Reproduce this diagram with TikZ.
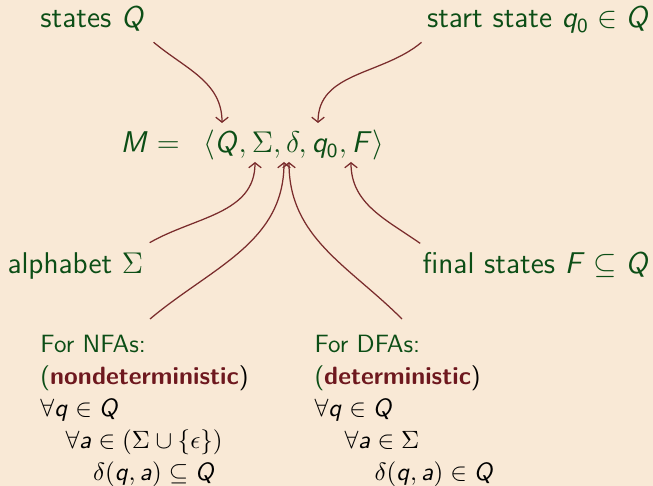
\documentclass[tikz,border=0pt]{standalone}
\usepackage{amsmath}
\usepackage{tikz}
\usetikzlibrary{arrows.meta}

\renewcommand{\familydefault}{\sfdefault}
% sans italic letters and sans digits in math, serif greek
\DeclareSymbolFont{sfitletters}{OT1}{cmss}{m}{sl}
\DeclareSymbolFont{sfdigits}{OT1}{cmss}{m}{n}
\newcount\lettercode
\lettercode=65
\loop
  \mathcode\lettercode=\numexpr "7000+\symsfitletters*"100+\lettercode\relax
  \advance\lettercode by 1
\ifnum\lettercode<91 \repeat
\lettercode=97
\loop
  \mathcode\lettercode=\numexpr "7000+\symsfitletters*"100+\lettercode\relax
  \advance\lettercode by 1
\ifnum\lettercode<123 \repeat
\lettercode=48
\loop
  \mathcode\lettercode=\numexpr "7000+\symsfdigits*"100+\lettercode\relax
  \advance\lettercode by 1
\ifnum\lettercode<58 \repeat

\definecolor{slidebg}{RGB}{249,233,214}
\definecolor{labelgreen}{RGB}{12,78,22}
\definecolor{arrowred}{RGB}{122,44,44}
\definecolor{alertred}{RGB}{110,24,30}

\begin{document}
\begin{tikzpicture}[x=0.4pt, y=0.4pt, >={Straight Barb[length=2pt,width=5pt]},
  lbl/.style={inner sep=0pt, text=labelgreen, font=\fontsize{12}{14.4}\selectfont},
  fa/.style={inner sep=0pt, align=left, anchor=north west, text=labelgreen,
    font=\fontsize{10}{12.8}\selectfont},
  link/.style={->, arrowred, line width=0.5pt}]
  \fill[slidebg] (0,0) rectangle (653,486);
  \useasboundingbox (0,0) rectangle (653,486);
  % the tuple
  \node[lbl, anchor=base west] (tuple) at (120,333)
    {$M = \mkern9mu \langle Q, \Sigma, \delta, q_0, F\rangle$};
  \coordinate (tQ) at (222,363);
  \coordinate (tq0) at (318,363);
  \coordinate (tSigma) at (255,324);
  \coordinate (tdeltaL) at (284,324);
  \coordinate (tdeltaR) at (289,324);
  \coordinate (tF) at (351,324);
  % its parts
  \node[lbl, anchor=base west] (states) at (40,458) {states $Q$};
  \node[lbl, anchor=base east] (start) at (650,458) {start state $q_0 \in Q$};
  \node[lbl, anchor=base west] (alpha) at (7,212) {alphabet $\Sigma$};
  \node[lbl, anchor=base east] (final) at (650,212) {final states $F \subseteq Q$};
  % NFA vs DFA
  \node[fa] (nfa) at (40,151) {For NFAs:\\
    (\textcolor{alertred}{\textbf{nondeterministic}}\textcolor{black}{)}\\
    \textcolor{black}{$\forall q \in Q$}\\
    \hspace*{1em}\textcolor{black}{$\forall a \in (\Sigma \cup \{\epsilon\})$}\\
    \hspace*{2.1em}\textcolor{black}{$\delta(q, a) \subseteq Q$}};
  \node[fa] (dfa) at (314,151) {For DFAs:\\
    (\textcolor{alertred}{\textbf{deterministic}}\textcolor{black}{)}\\
    \textcolor{black}{$\forall q \in Q$}\\
    \hspace*{1.2em}\textcolor{black}{$\forall a \in \Sigma$}\\
    \hspace*{2.4em}\textcolor{black}{$\delta(q, a) \in Q$}};
  % arrows
  \draw[link] (states.south east) ++(8,-10) to[out=-40, in=90] (tQ);
  \draw[link] (start.south west) ++(-5,-8) to[out=-140, in=90] (tq0);
  \draw[link] (alpha.north east) ++(6,10) to[out=30, in=-90] (tSigma);
  \draw[link] (final.north west) ++(-2,9) to[out=145, in=-90] (tF);
  \draw[link] (nfa.north west) ++(110,16) to[out=40, in=-90] (tdeltaL);
  \draw[link] (dfa.north west) ++(88,16) to[out=135, in=-90] (tdeltaR);
\end{tikzpicture}
\end{document}
